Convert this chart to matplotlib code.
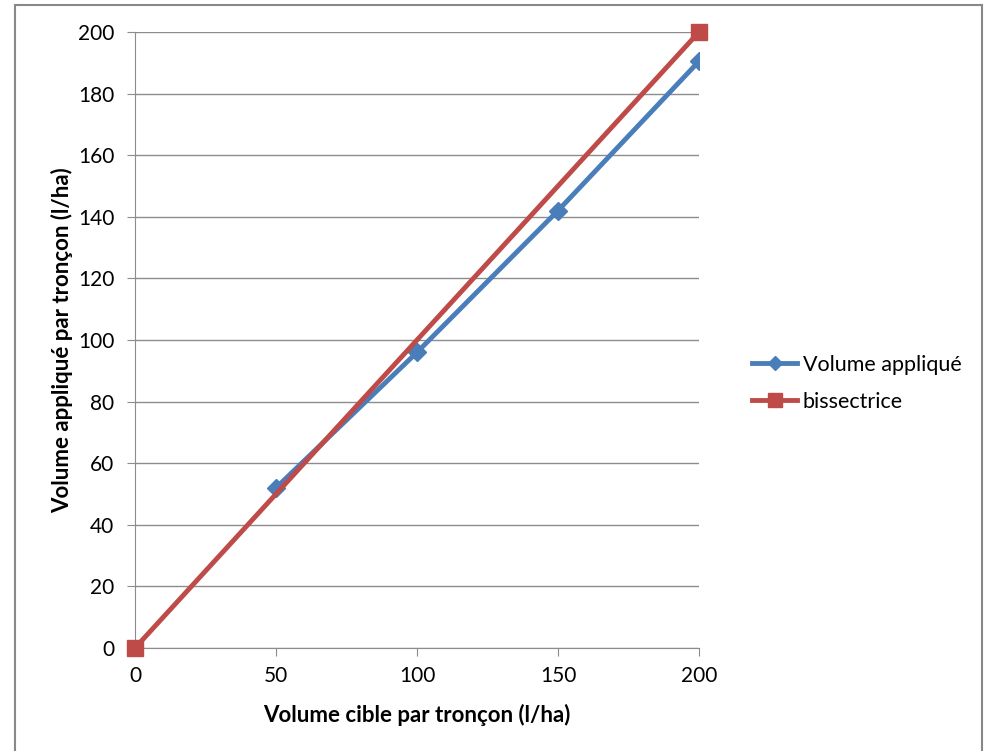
import matplotlib
matplotlib.use('Agg')
import matplotlib.pyplot as plt
from matplotlib.patches import Rectangle

# data
cible = [50, 100, 150, 200]
applique = [52, 96, 142, 190.5]
bis_x = [0, 200]
bis_y = [0, 200]
yticks = list(range(0, 201, 20))
xticks = [0, 50, 100, 150, 200]

plt.rcParams['font.family'] = ['Lato', 'DejaVu Sans']

fig = plt.figure(figsize=(9.86, 7.51), dpi=100)
ax = fig.add_axes([135 / 986, 1 - 648 / 751, (699 - 135) / 986, (648 - 32) / 751])

# outer frame of the chart
fig.patches.append(Rectangle((15 / 986, -0.05), (982 - 15) / 986, 1 - 5 / 751 + 0.05,
                             transform=fig.transFigure, fill=False,
                             edgecolor='#888888', linewidth=1.5))

blue = '#4a7ebb'
red = '#be4b48'
ax.plot(cible, applique, color=blue, linewidth=3.5, marker='D', markersize=9,
        label='Volume appliqué', zorder=3)
ax.plot(bis_x, bis_y, color=red, linewidth=3.5, marker='s', markersize=12,
        label='bissectrice', zorder=4, clip_on=False)

ax.set_xlim(0, 200)
ax.set_ylim(0, 200)
ax.set_xticks(xticks)
ax.set_yticks(yticks)
ax.yaxis.grid(True, color='#8c8c8c', linewidth=1)
ax.set_axisbelow(True)
for s in ['top', 'right']:
  ax.spines[s].set_visible(False)
for s in ['left', 'bottom']:
  ax.spines[s].set_color('#8c8c8c')
ax.tick_params(axis='both', colors='#8c8c8c', labelcolor='black', labelsize=15,
               length=6, direction='out')
ax.tick_params(axis='x', pad=7)
ax.tick_params(axis='y', pad=9)

ax.set_xlabel('Volume cible par tronçon (l/ha)', fontsize=16, fontweight='bold', labelpad=13)
ax.set_ylabel('Volume appliqué par tronçon (l/ha)', fontsize=16, fontweight='bold', labelpad=3)

leg = ax.legend(loc='center left', bbox_to_anchor=(1.06, 0.43), frameon=False, fontsize=15.5,
                handlelength=2.1, labelspacing=0.8, handletextpad=0.25, markerscale=0.8)

fig.savefig('out.png', dpi=100)
